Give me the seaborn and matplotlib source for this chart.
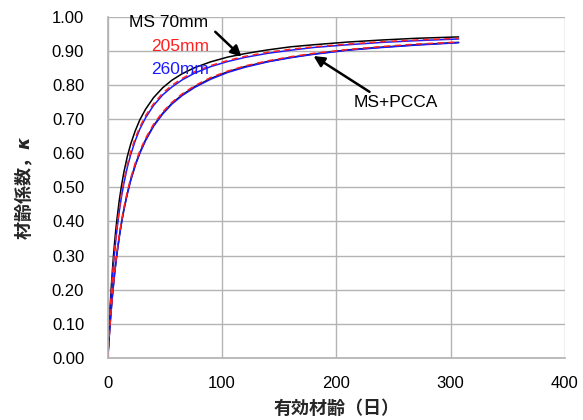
import matplotlib
matplotlib.use('Agg')
import matplotlib.pyplot as plt
import seaborn as sns
import pandas as pd

# effective age (days) and strength ratio kappa
days = [0, 0.5, 1, 1.5, 2, 3, 4, 5, 6, 7, 8, 10, 12, 14, 17, 20, 24, 28, 33, 40,
        48, 56, 65, 76, 90, 105, 120, 140, 160, 180, 210, 240, 270, 307]

ms_70 = [0, 0.042, 0.080, 0.116, 0.149, 0.207, 0.258, 0.303, 0.342, 0.377, 0.408,
         0.462, 0.506, 0.544, 0.590, 0.627, 0.666, 0.698, 0.729, 0.763, 0.792,
         0.814, 0.833, 0.851, 0.868, 0.882, 0.892, 0.903, 0.912, 0.918, 0.926,
         0.932, 0.937, 0.941]
ms_205 = [0, 0.038, 0.073, 0.106, 0.137, 0.191, 0.239, 0.282, 0.320, 0.354, 0.384,
          0.437, 0.482, 0.519, 0.566, 0.604, 0.645, 0.677, 0.710, 0.745, 0.776,
          0.799, 0.819, 0.839, 0.857, 0.872, 0.884, 0.896, 0.905, 0.912, 0.920,
          0.927, 0.932, 0.937]
ms_260 = [0, 0.037, 0.071, 0.103, 0.133, 0.187, 0.234, 0.276, 0.313, 0.347, 0.377,
          0.430, 0.474, 0.511, 0.558, 0.596, 0.637, 0.671, 0.704, 0.740, 0.771,
          0.794, 0.815, 0.835, 0.854, 0.869, 0.881, 0.893, 0.902, 0.910, 0.918,
          0.925, 0.930, 0.935]
pcca_70 = [0, 0.028, 0.054, 0.078, 0.101, 0.144, 0.183, 0.218, 0.251, 0.280, 0.307,
           0.356, 0.398, 0.435, 0.482, 0.522, 0.566, 0.602, 0.639, 0.681, 0.717,
           0.746, 0.771, 0.795, 0.819, 0.839, 0.854, 0.869, 0.881, 0.891, 0.903,
           0.911, 0.918, 0.925]
pcca_205 = [0, 0.028, 0.054, 0.079, 0.102, 0.146, 0.185, 0.221, 0.254, 0.284, 0.312,
            0.361, 0.403, 0.440, 0.487, 0.527, 0.571, 0.607, 0.644, 0.685, 0.721,
            0.749, 0.774, 0.798, 0.822, 0.841, 0.856, 0.871, 0.883, 0.893, 0.904,
            0.913, 0.920, 0.926]
pcca_260 = [0, 0.027, 0.053, 0.077, 0.100, 0.142, 0.181, 0.216, 0.249, 0.278, 0.305,
            0.354, 0.396, 0.433, 0.480, 0.520, 0.564, 0.600, 0.637, 0.679, 0.715,
            0.744, 0.769, 0.793, 0.817, 0.837, 0.852, 0.868, 0.880, 0.890, 0.902,
            0.910, 0.917, 0.924]

x_ticks = [0, 100, 200, 300, 400]
y_ticks = [0.0, 0.1, 0.2, 0.3, 0.4, 0.5, 0.6, 0.7, 0.8, 0.9, 1.0]

sns.set_theme(style="whitegrid")
plt.rcParams['font.family'] = ['Liberation Sans', 'Noto Sans CJK JP', 'DejaVu Sans']
plt.rcParams['mathtext.fontset'] = 'custom'
plt.rcParams['mathtext.it'] = 'DejaVu Sans:italic:bold'

fig = plt.figure(figsize=(5.83, 4.2), dpi=100)
ax = fig.add_axes([0.185, 0.148, 0.784, 0.812])

series = [
    (ms_70, 'black', '-'), (ms_260, '#1a1aff', '-'), (ms_205, '#ff2020', (0, (4, 3))),
    (pcca_70, 'black', '-'), (pcca_260, '#1a1aff', '-'), (pcca_205, '#ff2020', (0, (4, 3))),
]
for vals, col, ls in series:
    df = pd.DataFrame({'day': days, 'kappa': vals})
    sns.lineplot(data=df, x='day', y='kappa', color=col, linestyle=ls, linewidth=1.1, ax=ax)

ax.set_xlim(0, 400)
ax.set_ylim(0, 1.0)
ax.set_xticks(x_ticks)
ax.set_yticks(y_ticks)
ax.set_yticklabels(['%.2f' % v for v in y_ticks])
ax.set_facecolor('white')
ax.grid(True, color='#b4b4b4', linewidth=1.0)
for s in ax.spines.values():
    s.set_visible(False)
ax.spines['left'].set_visible(True)
ax.spines['bottom'].set_visible(True)
ax.spines['left'].set_color('#b4b4b4')
ax.spines['bottom'].set_color('#b4b4b4')
ax.tick_params(axis='both', length=6, width=1, color='#b4b4b4', labelsize=12, labelcolor='black')
ax.tick_params(axis='y', pad=11)
ax.tick_params(axis='x', pad=7)

ax.set_xlabel('有効材齢（日）', family=['Noto Sans CJK JP'], fontweight='bold', fontsize=13, labelpad=6)
ax.set_ylabel('材齢係数，$\\kappa$', family=['Noto Sans CJK JP'], fontweight='bold', fontsize=13, labelpad=12)

ax.text(53, 0.983, 'MS 70mm', color='black', fontsize=12.5, ha='center', va='center')
ax.text(63, 0.912, '205mm', color='#ff2020', fontsize=12.5, ha='center', va='center')
ax.text(63, 0.845, '260mm', color='#1a1aff', fontsize=12.5, ha='center', va='center')
ax.annotate('', xy=(117, 0.883), xytext=(94, 0.956),
            arrowprops=dict(arrowstyle='-|>', color='black', lw=1.8, mutation_scale=16,
                            shrinkA=0, shrinkB=0))
ax.annotate('', xy=(180, 0.885), xytext=(229, 0.78),
            arrowprops=dict(arrowstyle='-|>', color='black', lw=1.8, mutation_scale=16,
                            shrinkA=0, shrinkB=0))
ax.text(252, 0.748, 'MS+PCCA', color='black', fontsize=12.5, ha='center', va='center')

plt.savefig('out.png', dpi=100)
plt.close()
